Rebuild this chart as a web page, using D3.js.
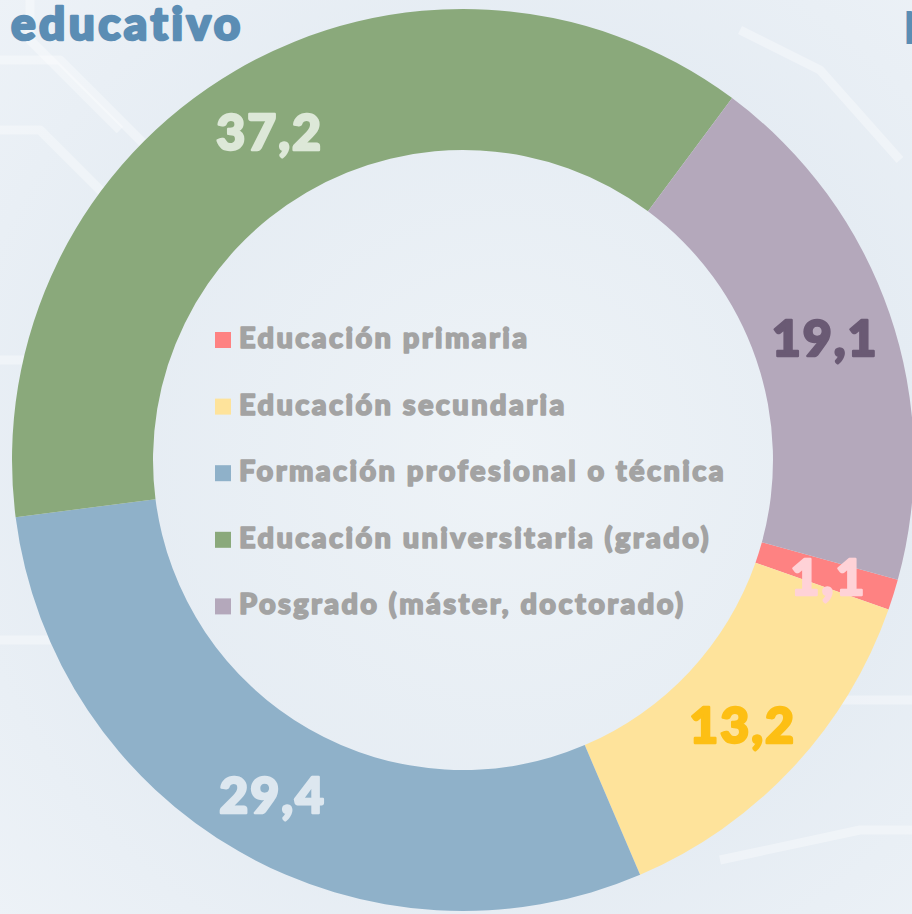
<!DOCTYPE html>
<html>
<head>
<meta charset="utf-8">
<script src="https://cdn.jsdelivr.net/npm/d3@7"></script>
<style>
  html, body { margin: 0; padding: 0; background: #e6edf3; }
  svg { display: block; }
</style>
</head>
<body>
<div id="chart"></div>
<script>
var svgWidth = 912;
var svgHeight = 914;

// data
var categories = ["Educación primaria", "Educación secundaria", "Formación profesional o técnica",
                  "Educación universitaria (grado)", "Posgrado (máster, doctorado)"];
var values = [1.1, 13.2, 29.4, 37.2, 19.1];
var labels = ["1,1", "13,2", "29,4", "37,2", "19,1"];
var sliceColors = ["#fe8282", "#fee39b", "#8fb1c9", "#8aa97b", "#b4a8bb"];
var labelColors = ["#ffd2d7", "#fdbf14", "#dde7ef", "#dde8d8", "#6a5a74"];

var cx = 463, cy = 460;
var innerR = 310, outerR = 451, labelR = 383;
var startDeg = 105.4;
var font = "Lato, 'Open Sans', sans-serif";

var svg = d3.select("#chart").append("svg")
    .attr("width", svgWidth)
    .attr("height", svgHeight);

// background: pale bluish wash with faint circuit traces
var defs = svg.append("defs");
var bg = defs.append("radialGradient").attr("id", "bg")
    .attr("cx", "55%").attr("cy", "50%").attr("r", "75%");
bg.append("stop").attr("offset", "0%").attr("stop-color", "#eef3f7");
bg.append("stop").attr("offset", "60%").attr("stop-color", "#e5ecf3");
bg.append("stop").attr("offset", "100%").attr("stop-color", "#edf2f7");

svg.append("rect")
    .attr("width", svgWidth).attr("height", svgHeight)
    .attr("fill", "url(#bg)");

var traces = [
    [[0, 60], [60, 60], [150, 150], [150, 260]],
    [[0, 130], [40, 130], [110, 200], [110, 330]],
    [[30, 0], [30, 40], [120, 130]],
    [[0, 360], [70, 360], [100, 390]],
    [[0, 640], [60, 640], [120, 700]],
    [[740, 30], [820, 70], [900, 160]],
    [[780, 700], [912, 700]],
    [[720, 860], [860, 830], [912, 830]]
];
svg.append("g")
    .selectAll("path")
    .data(traces)
    .enter().append("path")
    .attr("d", d3.line())
    .attr("fill", "none")
    .attr("stroke", "#ffffff")
    .attr("stroke-opacity", 0.35)
    .attr("stroke-width", 9)
    .attr("stroke-linejoin", "round");

// title pieces
svg.append("text")
    .attr("x", 11)
    .attr("y", 40)
    .attr("font-family", font)
    .attr("font-weight", 900)
    .attr("font-size", 46)
    .attr("letter-spacing", 3.4)
    .attr("fill", "#5b8db4")
    .attr("stroke", "#5b8db4")
    .attr("stroke-width", 2.5)
    .attr("stroke-linejoin", "round")
    .text("educativo");

svg.append("text")
    .attr("x", 903)
    .attr("y", 44)
    .attr("font-family", font)
    .attr("font-weight", 900)
    .attr("font-size", 46)
    .attr("fill", "#5b8db4")
    .text("N");

// donut
var pie = d3.pie()
    .sort(null)
    .value(function(d) { return d; })
    .startAngle(startDeg * Math.PI / 180)
    .endAngle((startDeg + 360) * Math.PI / 180);

var arc = d3.arc()
    .innerRadius(innerR)
    .outerRadius(outerR);

var labelArc = d3.arc()
    .innerRadius(labelR)
    .outerRadius(labelR);

var arcs = pie(values);

var g = svg.append("g")
    .attr("transform", "translate(" + cx + "," + cy + ")");

g.selectAll("path.slice")
    .data(arcs)
    .enter().append("path")
    .attr("class", "slice")
    .attr("d", arc)
    .attr("fill", function(d, i) { return sliceColors[i]; });

g.selectAll("text.value")
    .data(arcs)
    .enter().append("text")
    .attr("class", "value")
    .attr("transform", function(d) { return "translate(" + labelArc.centroid(d) + ")"; })
    .attr("dy", "0.42em")
    .attr("text-anchor", "middle")
    .attr("font-family", font)
    .attr("font-weight", 900)
    .attr("font-size", 50)
    .attr("letter-spacing", 2)
    .attr("fill", function(d, i) { return labelColors[i]; })
    .attr("stroke", function(d, i) { return labelColors[i]; })
    .attr("stroke-width", 2.5)
    .attr("stroke-linejoin", "round")
    .text(function(d, i) { return labels[i]; });

// legend in the hole
var legend = svg.append("g")
    .attr("class", "legend")
    .attr("transform", "translate(215, 348)");

var rowStep = 66.6;

legend.selectAll("rect")
    .data(categories)
    .enter().append("rect")
    .attr("x", 0)
    .attr("y", function(d, i) { return i * rowStep - 16; })
    .attr("width", 16)
    .attr("height", 16)
    .attr("fill", function(d, i) { return sliceColors[i]; });

legend.selectAll("text")
    .data(categories)
    .enter().append("text")
    .attr("x", 24)
    .attr("y", function(d, i) { return i * rowStep; })
    .attr("font-family", font)
    .attr("font-weight", 900)
    .attr("font-size", 29)
    .attr("letter-spacing", 2.4)
    .attr("fill", "#a3a3a3")
    .attr("stroke", "#a3a3a3")
    .attr("stroke-width", 1.6)
    .attr("stroke-linejoin", "round")
    .text(function(d) { return d; });
</script>
</body>
</html>
